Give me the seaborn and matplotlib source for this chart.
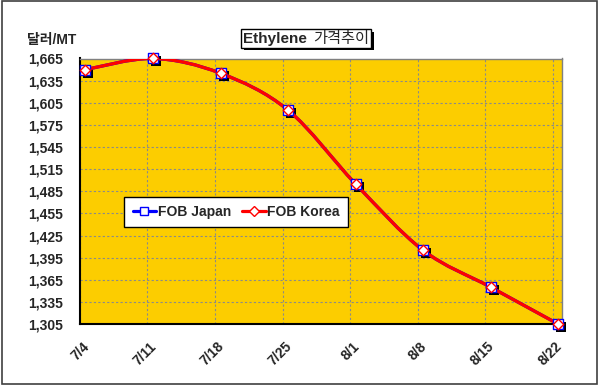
import matplotlib
matplotlib.use('Agg')
import matplotlib.pyplot as plt
import matplotlib.transforms as mtransforms
from matplotlib.path import Path
from matplotlib.patches import PathPatch, Rectangle
from matplotlib.lines import Line2D
from matplotlib.offsetbox import TextArea, HPacker, AnchoredOffsetbox
from matplotlib import patheffects
import seaborn as sns

# data
dates = ['7/4', '7/11', '7/18', '7/25', '8/1', '8/8', '8/15', '8/22']
days = [0, 7, 14, 21, 28, 35, 42, 49]
fob_japan = [1650, 1665, 1645, 1595, 1495, 1405, 1355, 1305]
fob_korea = [1650, 1665, 1645, 1595, 1495, 1405, 1355, 1305]
y_ticks = [1305, 1335, 1365, 1395, 1425, 1455, 1485, 1515, 1545, 1575, 1605, 1635, 1665]

sns.set_style('white')
plt.rcParams['font.family'] = ['Liberation Sans', 'Noto Sans CJK KR']


def smooth_path(x, y):
    # Excel-like smoothed line: cubic bezier through the points
    pts = list(zip(x, y))
    verts = [pts[0]]
    codes = [Path.MOVETO]
    n = len(pts)
    for i in range(n - 1):
        p0 = pts[max(i - 1, 0)]
        p1 = pts[i]
        p2 = pts[i + 1]
        p3 = pts[min(i + 2, n - 1)]
        c1 = (p1[0] + (p2[0] - p0[0]) / 6, p1[1] + (p2[1] - p0[1]) / 6)
        c2 = (p2[0] - (p3[0] - p1[0]) / 6, p2[1] - (p3[1] - p1[1]) / 6)
        verts += [c1, c2, p2]
        codes += [Path.CURVE4] * 3
    return Path(verts, codes)


fig = plt.figure(figsize=(6, 3.9), dpi=100)
ax = fig.add_axes([0.1333, 0.1692, 0.8033, 0.6808])
ax.set_facecolor('#FCCD00')

# shadows behind the markers
sns.scatterplot(x=days, y=fob_japan, marker='s', color='black', s=50,
                linewidth=0, ax=ax, zorder=3, clip_on=False)
ax.collections[-1].set_offset_transform(
    mtransforms.offset_copy(ax.transData, fig=fig, x=3, y=-3, units='dots'))

ax.add_patch(PathPatch(smooth_path(days, fob_japan), fill=False,
                       edgecolor='blue', lw=2.3, zorder=4))
ax.add_patch(PathPatch(smooth_path(days, fob_korea), fill=False,
                       edgecolor='#FF0000', lw=2.3, zorder=4))

sns.scatterplot(x=days, y=fob_japan, marker='s', color='white', edgecolor='blue',
                s=45, linewidth=1, ax=ax, zorder=5, clip_on=False)
sns.scatterplot(x=days, y=fob_korea, marker='D', color='white', edgecolor='#FF0000',
                s=28, linewidth=1, ax=ax, zorder=6, clip_on=False)

ax.set_xlim(-0.57, 49.4)
ax.set_ylim(1305, 1665)
ax.set_xticks([d - 0.57 for d in days])
ax.set_xticklabels(dates, rotation=45, ha='right', va='top',
                   fontsize=10, fontweight='bold')
ax.set_yticks(y_ticks)
ax.set_yticklabels([f'{v:,}' for v in y_ticks], fontsize=10, fontweight='bold')
ax.tick_params(axis='x', length=0, pad=11)
ax.tick_params(axis='y', length=0, pad=12)
shift = mtransforms.ScaledTranslation(0.12, 0, fig.dpi_scale_trans)
for lab in ax.get_xticklabels():
    lab.set_transform(lab.get_transform() + shift)

ax.grid(True, color='#8A8A8A', linestyle=(0, (2, 2)), linewidth=0.8)
ax.set_axisbelow(True)
for side in ['left', 'bottom']:
    ax.spines[side].set_color('black')
    ax.spines[side].set_linewidth(1.5)
for side in ['top', 'right']:
    ax.spines[side].set_color('#808080')
    ax.spines[side].set_linewidth(1)
ax.set_xlabel('')
ax.set_ylabel('')

# legend
handles = [
    Line2D([], [], color='blue', lw=2.3, marker='s', markersize=6,
           markerfacecolor='white', markeredgecolor='blue'),
    Line2D([], [], color='#FF0000', lw=2.3, marker='D', markersize=5,
           markerfacecolor='white', markeredgecolor='#FF0000'),
]
leg = ax.legend(handles, ['FOB Japan', 'FOB Korea'], ncol=2, loc='center',
                bbox_to_anchor=(236 / 600, 1 - 212 / 390),
                bbox_transform=fig.transFigure, frameon=True, fancybox=False,
                framealpha=1, facecolor='white',
                prop={'size': 10, 'weight': 'bold'}, handlelength=1.7,
                handletextpad=0.1, columnspacing=0.8, borderpad=0.6)
leg.get_frame().set_edgecolor('black')
leg.get_frame().set_linewidth(1)
leg.set_zorder(10)

# title box
title = HPacker(children=[
    TextArea('Ethylene', textprops=dict(fontsize=11, fontweight='bold')),
    TextArea('가격추이', textprops=dict(fontsize=11)),
], align='center', pad=0, sep=4)
tbox = AnchoredOffsetbox(loc='center', child=title, pad=0.15, borderpad=0,
                         frameon=True, bbox_to_anchor=(306 / 600, 1 - 38.5 / 390),
                         bbox_transform=fig.transFigure)
tbox.patch.set_boxstyle('square', pad=0)
tbox.patch.set_edgecolor('black')
tbox.patch.set_linewidth(1)
tbox.patch.set_path_effects([patheffects.SimplePatchShadow(offset=(2, -2), shadow_rgbFace='black', alpha=1),
                             patheffects.Normal()])
fig.add_artist(tbox)

fig.text(52 / 600, 1 - 40 / 390, '달러/MT', ha='center', va='center',
         fontsize=10, fontweight='bold')

# outer frame
fig.add_artist(Rectangle((2 / 600, 6 / 390), 595 / 600, 383 / 390,
                         transform=fig.transFigure, fill=False,
                         edgecolor='#404040', lw=1.2))

fig.savefig('out.png', dpi=100)
